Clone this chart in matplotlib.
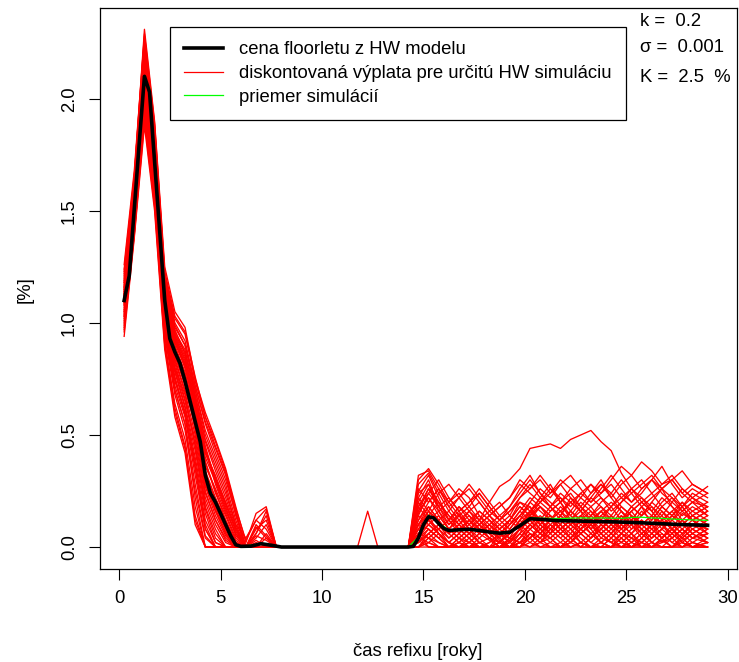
"""Floorlet z HW modelu vs. diskontované výplaty simulácií (k=0.2, sigma=0.001, K=2.5 %)."""
import numpy as np
import matplotlib
matplotlib.use("Agg")
import matplotlib.pyplot as plt
from matplotlib.lines import Line2D

FS = 13.3
plt.rcParams["font.family"] = ["Liberation Sans", "DejaVu Sans"]
plt.rcParams["font.size"] = FS

# ---- dáta odčítané z obrázka ----
# časová mriežka simulácií (roky): začiatok, stred (nuly), koniec
T_EARLY = [0.25, 0.75, 1.25, 1.75, 2.25, 2.75, 3.25, 3.75,
           4.25, 4.75, 5.25, 5.75, 6.25, 6.75, 7.25, 7.75]
T_MID = [8.25, 8.75, 9.25, 9.75, 10.25, 10.75, 11.25, 11.75, 12.25, 12.75, 13.25, 13.75]
T_TAIL = [14.25, 14.75, 15.25, 15.75, 16.25, 16.75, 17.25, 17.75, 18.25, 18.75,
          19.25, 19.75, 20.25, 20.75, 21.25, 21.75, 22.25, 22.75, 23.25, 23.75,
          24.25, 24.75, 25.25, 25.75, 26.25, 26.75, 27.25, 27.75, 28.25, 29.0]

sim_early = [
    [1.12, 1.52, 2.12, 1.72, 1.08, 0.88, 0.74, 0.52, 0.28, 0.16, 0.06, 0, 0, 0, 0, 0],
    [1.05, 1.45, 2.02, 1.62, 0.98, 0.78, 0.62, 0.40, 0.15, 0.02, 0, 0, 0, 0, 0, 0],
    [1.18, 1.60, 2.25, 1.85, 1.20, 0.98, 0.90, 0.70, 0.52, 0.40, 0.28, 0.12, 0, 0, 0, 0],
    [1.08, 1.48, 2.08, 1.68, 1.02, 0.70, 0.55, 0.22, 0, 0, 0, 0, 0, 0, 0, 0],
    [1.15, 1.55, 2.18, 1.78, 1.15, 0.95, 0.85, 0.66, 0.45, 0.30, 0.18, 0.05, 0, 0.08, 0.12, 0],
    [0.98, 1.40, 1.92, 1.55, 0.92, 0.62, 0.45, 0.12, 0, 0, 0, 0, 0, 0, 0, 0],
    [1.22, 1.65, 2.31, 1.90, 1.25, 1.05, 0.98, 0.75, 0.60, 0.48, 0.35, 0.18, 0.02, 0.15, 0.18, 0],
    [1.10, 1.50, 2.10, 1.70, 1.10, 0.86, 0.72, 0.58, 0.30, 0.20, 0.10, 0, 0, 0, 0, 0],
    [1.02, 1.42, 1.98, 1.60, 1.00, 0.80, 0.68, 0.45, 0.20, 0.08, 0, 0, 0, 0, 0, 0],
    [1.14, 1.56, 2.15, 1.76, 1.12, 0.92, 0.80, 0.62, 0.38, 0.25, 0.12, 0.02, 0, 0, 0, 0],
    [1.26, 1.68, 2.28, 1.88, 1.22, 1.00, 0.92, 0.72, 0.55, 0.42, 0.30, 0.15, 0, 0.10, 0.05, 0],
    [0.94, 1.38, 1.88, 1.50, 0.88, 0.58, 0.42, 0.10, 0, 0, 0, 0, 0, 0, 0, 0],
    [1.09, 1.49, 2.06, 1.66, 1.05, 0.84, 0.70, 0.55, 0.25, 0.12, 0.04, 0, 0, 0, 0, 0],
    [1.16, 1.58, 2.20, 1.80, 1.16, 0.94, 0.84, 0.64, 0.42, 0.32, 0.20, 0.08, 0, 0.04, 0.10, 0],
    [1.06, 1.46, 2.04, 1.64, 1.04, 0.82, 0.66, 0.48, 0.22, 0.10, 0.02, 0, 0, 0, 0, 0],
    [1.20, 1.62, 2.22, 1.82, 1.18, 0.96, 0.88, 0.68, 0.48, 0.36, 0.24, 0.10, 0, 0, 0, 0],
    [1.11, 1.51, 2.11, 1.71, 1.09, 0.87, 0.76, 0.58, 0.34, 0.22, 0.12, 0.02, 0, 0.02, 0, 0],
    [1.00, 1.42, 1.96, 1.58, 0.96, 0.72, 0.58, 0.32, 0.08, 0, 0, 0, 0, 0, 0, 0],
    [1.13, 1.54, 2.14, 1.74, 1.12, 0.90, 0.78, 0.60, 0.36, 0.26, 0.15, 0.04, 0, 0, 0, 0],
    [1.07, 1.47, 2.05, 1.65, 1.03, 0.80, 0.65, 0.46, 0.18, 0.06, 0, 0, 0, 0, 0, 0],
    [1.19, 1.61, 2.24, 1.84, 1.19, 0.97, 0.86, 0.70, 0.50, 0.38, 0.26, 0.10, 0.04, 0.12, 0.08, 0],
    [1.04, 1.44, 2.00, 1.61, 0.99, 0.76, 0.60, 0.38, 0.12, 0.02, 0, 0, 0, 0, 0, 0],
    [1.12, 1.53, 2.13, 1.73, 1.11, 0.89, 0.77, 0.57, 0.32, 0.18, 0.08, 0, 0, 0, 0, 0],
    [1.17, 1.59, 2.19, 1.79, 1.14, 0.93, 0.82, 0.65, 0.44, 0.28, 0.16, 0.06, 0, 0, 0.06, 0],
    [1.03, 1.43, 1.99, 1.59, 0.97, 0.74, 0.60, 0.36, 0.10, 0, 0, 0, 0, 0, 0, 0],
    [1.24, 1.66, 2.27, 1.87, 1.21, 1.02, 0.95, 0.74, 0.58, 0.45, 0.33, 0.16, 0, 0.06, 0.14, 0],
    [1.09, 1.50, 2.09, 1.69, 1.07, 0.85, 0.73, 0.54, 0.27, 0.14, 0.05, 0, 0, 0, 0, 0],
    [0.99, 1.41, 1.94, 1.56, 0.94, 0.68, 0.52, 0.25, 0.04, 0, 0, 0, 0, 0, 0, 0],
    [1.14, 1.55, 2.16, 1.77, 1.13, 0.91, 0.81, 0.63, 0.40, 0.29, 0.17, 0.06, 0, 0.03, 0, 0],
    [1.10, 1.51, 2.09, 1.70, 1.09, 0.86, 0.75, 0.56, 0.30, 0.19, 0.09, 0.01, 0, 0, 0, 0],
    [1.13, 1.54, 2.17, 1.76, 1.13, 0.92, 0.80, 0.64, 0.42, 0.30, 0.20, 0.08, 0, 0.06, 0.16, 0],
    [1.01, 1.43, 1.97, 1.58, 0.95, 0.70, 0.55, 0.28, 0.05, 0, 0, 0, 0, 0, 0, 0],
    [1.21, 1.63, 2.26, 1.86, 1.20, 0.99, 0.90, 0.72, 0.56, 0.44, 0.32, 0.14, 0, 0, 0, 0],
    [1.08, 1.48, 2.07, 1.67, 1.06, 0.83, 0.69, 0.50, 0.24, 0.12, 0.03, 0, 0, 0, 0, 0],
    [1.15, 1.57, 2.17, 1.78, 1.14, 0.93, 0.81, 0.61, 0.38, 0.24, 0.14, 0.03, 0, 0.05, 0.03, 0],
    [0.96, 1.39, 1.90, 1.52, 0.90, 0.60, 0.44, 0.14, 0, 0, 0, 0, 0, 0, 0, 0],
    [1.11, 1.52, 2.12, 1.72, 1.10, 0.88, 0.76, 0.59, 0.33, 0.21, 0.11, 0.02, 0, 0, 0, 0],
    [1.18, 1.60, 2.23, 1.83, 1.17, 0.95, 0.87, 0.67, 0.47, 0.34, 0.22, 0.09, 0, 0.09, 0.04, 0],
    [1.05, 1.45, 2.03, 1.63, 1.01, 0.79, 0.63, 0.43, 0.17, 0.04, 0, 0, 0, 0, 0, 0],
    [1.12, 1.53, 2.11, 1.71, 1.10, 0.88, 0.75, 0.57, 0.31, 0.17, 0.07, 0, 0, 0, 0, 0],
    [1.23, 1.65, 2.29, 1.89, 1.23, 1.03, 0.96, 0.76, 0.58, 0.47, 0.34, 0.17, 0.03, 0.12, 0.17, 0],
    [1.03, 1.44, 2.01, 1.60, 0.98, 0.75, 0.59, 0.35, 0.08, 0, 0, 0, 0, 0, 0, 0],
    [1.10, 1.50, 2.10, 1.70, 1.08, 0.86, 0.74, 0.55, 0.29, 0.16, 0.06, 0, 0, 0, 0, 0],
    [1.16, 1.57, 2.18, 1.79, 1.15, 0.94, 0.83, 0.64, 0.43, 0.31, 0.19, 0.07, 0, 0, 0.04, 0],
    [0.97, 1.40, 1.93, 1.54, 0.91, 0.64, 0.48, 0.18, 0, 0, 0, 0, 0, 0, 0, 0],
]

mid_zero = [0, 0, 0, 0, 0, 0, 0, 0, 0, 0, 0, 0]
mid_bump = [0, 0, 0, 0, 0, 0, 0, 0, 0.16, 0, 0, 0]   # jediná simulácia s výplatou okolo 12 rokov

sim_tail = [
    [0, 0.22, 0.30, 0.18, 0.10, 0.15, 0.08, 0.02, 0, 0.05, 0.12, 0.20, 0.18, 0.10, 0.06, 0.14, 0.22, 0.16, 0.08, 0.02, 0, 0.06, 0.12, 0.18, 0.10, 0.04, 0.08, 0.15, 0.12, 0.08],
    [0, 0.05, 0.12, 0.08, 0.02, 0, 0, 0.04, 0.08, 0.03, 0, 0.06, 0.15, 0.22, 0.28, 0.20, 0.12, 0.18, 0.24, 0.30, 0.22, 0.16, 0.10, 0.14, 0.20, 0.26, 0.18, 0.12, 0.16, 0.20],
    [0, 0.30, 0.35, 0.28, 0.20, 0.26, 0.22, 0.14, 0.08, 0.12, 0.18, 0.26, 0.32, 0.24, 0.18, 0.12, 0.08, 0.02, 0, 0, 0.04, 0.10, 0.06, 0, 0, 0.03, 0, 0.05, 0.10, 0.06],
    [0, 0, 0.04, 0.02, 0, 0, 0, 0, 0, 0, 0, 0.02, 0.06, 0.04, 0, 0, 0.02, 0.08, 0.12, 0.06, 0.02, 0, 0, 0.04, 0.10, 0.14, 0.08, 0.02, 0, 0],
    [0, 0.10, 0.18, 0.12, 0.06, 0.10, 0.16, 0.12, 0.20, 0.27, 0.30, 0.35, 0.44, 0.45, 0.46, 0.44, 0.48, 0.50, 0.52, 0.47, 0.43, 0.33, 0.26, 0.30, 0.24, 0.18, 0.22, 0.16, 0.20, 0.24],
    [0, 0.18, 0.26, 0.20, 0.14, 0.08, 0.04, 0, 0, 0, 0.03, 0.08, 0.12, 0.06, 0.02, 0, 0, 0, 0.04, 0.08, 0.14, 0.20, 0.26, 0.22, 0.16, 0.10, 0.04, 0, 0.02, 0.06],
    [0, 0.08, 0.16, 0.24, 0.28, 0.22, 0.26, 0.20, 0.14, 0.10, 0.06, 0.10, 0.14, 0.20, 0.24, 0.30, 0.26, 0.22, 0.28, 0.24, 0.30, 0.36, 0.32, 0.38, 0.34, 0.28, 0.32, 0.26, 0.22, 0.27],
    [0, 0.02, 0.06, 0.02, 0, 0, 0.02, 0.06, 0.03, 0, 0, 0, 0.04, 0.10, 0.14, 0.08, 0.04, 0.10, 0.06, 0.02, 0, 0, 0.04, 0.02, 0, 0, 0, 0.03, 0.06, 0.02],
    [0, 0.25, 0.32, 0.22, 0.12, 0.16, 0.20, 0.24, 0.18, 0.12, 0.08, 0.14, 0.20, 0.16, 0.12, 0.18, 0.14, 0.20, 0.16, 0.10, 0.14, 0.08, 0.12, 0.18, 0.14, 0.20, 0.24, 0.18, 0.12, 0.16],
    [0, 0, 0, 0, 0, 0.02, 0.06, 0.02, 0, 0, 0, 0.04, 0.08, 0.12, 0.08, 0.14, 0.10, 0.06, 0.02, 0.06, 0.10, 0.16, 0.12, 0.08, 0.12, 0.18, 0.14, 0.10, 0.06, 0.10],
    [0, 0.15, 0.22, 0.16, 0.08, 0.12, 0.06, 0.10, 0.04, 0, 0.04, 0.12, 0.20, 0.26, 0.22, 0.28, 0.22, 0.18, 0.12, 0.16, 0.10, 0.06, 0.02, 0, 0, 0.04, 0.10, 0.06, 0.02, 0],
    [0, 0.04, 0.10, 0.06, 0.02, 0.06, 0.10, 0.14, 0.10, 0.06, 0.02, 0.08, 0.16, 0.12, 0.18, 0.14, 0.20, 0.16, 0.22, 0.18, 0.12, 0.08, 0.14, 0.10, 0.06, 0.12, 0.08, 0.04, 0.08, 0.12],
    [0, 0.28, 0.33, 0.24, 0.16, 0.22, 0.28, 0.22, 0.16, 0.20, 0.14, 0.22, 0.26, 0.30, 0.24, 0.28, 0.32, 0.26, 0.20, 0.24, 0.28, 0.22, 0.26, 0.20, 0.24, 0.28, 0.30, 0.34, 0.28, 0.24],
    [0, 0, 0.02, 0, 0, 0, 0, 0, 0, 0, 0, 0, 0.02, 0, 0, 0, 0.04, 0, 0, 0, 0, 0.02, 0.06, 0.02, 0, 0, 0, 0, 0.02, 0],
    [0, 0.10, 0.16, 0.10, 0.04, 0.08, 0.12, 0.08, 0.04, 0.08, 0.12, 0.18, 0.14, 0.10, 0.06, 0.02, 0.06, 0.12, 0.08, 0.14, 0.18, 0.12, 0.16, 0.20, 0.16, 0.22, 0.18, 0.14, 0.18, 0.14],
    [0, 0.20, 0.14, 0.06, 0, 0, 0.04, 0, 0, 0, 0, 0, 0.06, 0.02, 0.06, 0.10, 0.06, 0.02, 0, 0.02, 0.06, 0.10, 0.06, 0.12, 0.08, 0.04, 0, 0.04, 0, 0.02],
    [0, 0.06, 0.12, 0.16, 0.10, 0.14, 0.18, 0.12, 0.08, 0.04, 0.10, 0.16, 0.22, 0.18, 0.14, 0.10, 0.16, 0.12, 0.06, 0.10, 0.06, 0.12, 0.18, 0.14, 0.20, 0.16, 0.10, 0.06, 0.10, 0.08],
    [0, 0.02, 0.08, 0.04, 0.08, 0.04, 0, 0.02, 0, 0, 0.02, 0.06, 0.10, 0.06, 0.04, 0.08, 0.12, 0.16, 0.12, 0.08, 0.04, 0, 0, 0.02, 0.06, 0.02, 0.04, 0.08, 0.04, 0.06],
    [0, 0.24, 0.28, 0.16, 0.20, 0.14, 0.08, 0.12, 0.06, 0.02, 0.06, 0.12, 0.16, 0.20, 0.26, 0.20, 0.14, 0.10, 0.14, 0.20, 0.24, 0.18, 0.14, 0.08, 0.04, 0.08, 0.14, 0.20, 0.16, 0.12],
    [0, 0, 0.06, 0.10, 0.06, 0.02, 0, 0, 0.02, 0.06, 0.04, 0.02, 0.08, 0.04, 0.10, 0.06, 0.02, 0.06, 0.10, 0.14, 0.10, 0.06, 0.02, 0.06, 0.10, 0.06, 0.02, 0, 0.04, 0.02],
    [0, 0.14, 0.24, 0.30, 0.22, 0.16, 0.10, 0.06, 0.10, 0.04, 0, 0.04, 0.10, 0.14, 0.10, 0.06, 0.10, 0.14, 0.18, 0.22, 0.16, 0.20, 0.24, 0.18, 0.22, 0.26, 0.30, 0.24, 0.20, 0.18],
    [0, 0.04, 0.02, 0, 0, 0, 0, 0, 0, 0, 0, 0, 0, 0, 0.02, 0.06, 0.02, 0, 0, 0, 0, 0, 0, 0, 0.02, 0, 0, 0, 0, 0],
    [0, 0.18, 0.12, 0.08, 0.12, 0.18, 0.14, 0.10, 0.14, 0.18, 0.22, 0.28, 0.24, 0.20, 0.16, 0.20, 0.26, 0.30, 0.24, 0.28, 0.22, 0.28, 0.32, 0.26, 0.30, 0.36, 0.28, 0.22, 0.26, 0.22],
    [0, 0.08, 0.12, 0.06, 0.02, 0, 0.02, 0.06, 0.10, 0.06, 0.02, 0, 0.04, 0.08, 0.04, 0, 0.02, 0.06, 0.02, 0, 0.04, 0.08, 0.12, 0.08, 0.04, 0.08, 0.12, 0.16, 0.12, 0.08],
    [0, 0.32, 0.34, 0.26, 0.18, 0.12, 0.16, 0.10, 0.06, 0.02, 0.08, 0.14, 0.18, 0.12, 0.06, 0.10, 0.04, 0.08, 0.12, 0.06, 0.02, 0.06, 0.10, 0.04, 0, 0.04, 0.08, 0.12, 0.06, 0.10],
    [0, 0, 0.04, 0.08, 0.12, 0.08, 0.04, 0.08, 0.04, 0.02, 0.06, 0.10, 0.06, 0.02, 0.08, 0.12, 0.08, 0.12, 0.08, 0.12, 0.08, 0.04, 0.08, 0.12, 0.08, 0.04, 0.08, 0.04, 0.08, 0.04],
    [0, 0.12, 0.20, 0.26, 0.20, 0.24, 0.18, 0.24, 0.18, 0.12, 0.16, 0.22, 0.28, 0.22, 0.18, 0.24, 0.20, 0.24, 0.28, 0.22, 0.18, 0.24, 0.20, 0.26, 0.30, 0.24, 0.20, 0.26, 0.22, 0.18],
    [0, 0.06, 0, 0, 0, 0, 0, 0, 0, 0, 0, 0.02, 0.04, 0, 0, 0.02, 0, 0.02, 0, 0, 0, 0.04, 0, 0, 0, 0.02, 0.06, 0.02, 0, 0],
    [0, 0.16, 0.26, 0.18, 0.12, 0.06, 0.12, 0.16, 0.12, 0.08, 0.12, 0.18, 0.14, 0.08, 0.12, 0.16, 0.10, 0.06, 0.10, 0.16, 0.12, 0.18, 0.14, 0.10, 0.14, 0.10, 0.06, 0.10, 0.14, 0.10],
    [0, 0.10, 0.08, 0.04, 0, 0.04, 0.08, 0.04, 0, 0.02, 0.06, 0.10, 0.14, 0.18, 0.14, 0.08, 0.12, 0.08, 0.04, 0.08, 0.12, 0.08, 0.04, 0.08, 0.02, 0, 0.04, 0.08, 0.12, 0.06],
    [0, 0.20, 0.28, 0.20, 0.12, 0.18, 0.12, 0.06, 0.10, 0.14, 0.10, 0.16, 0.12, 0.18, 0.14, 0.10, 0.16, 0.22, 0.18, 0.12, 0.08, 0.14, 0.10, 0.06, 0.10, 0.16, 0.12, 0.18, 0.22, 0.16],
    [0, 0.04, 0.08, 0.04, 0, 0.02, 0.06, 0.10, 0.06, 0.02, 0, 0.04, 0.10, 0.06, 0.12, 0.08, 0.04, 0, 0.04, 0.10, 0.06, 0.12, 0.16, 0.10, 0.06, 0.02, 0.06, 0.12, 0.08, 0.04],
    [0, 0.26, 0.20, 0.26, 0.18, 0.22, 0.16, 0.20, 0.14, 0.18, 0.22, 0.30, 0.26, 0.32, 0.26, 0.22, 0.18, 0.24, 0.20, 0.26, 0.32, 0.26, 0.20, 0.24, 0.30, 0.26, 0.22, 0.18, 0.24, 0.20],
    [0, 0, 0.02, 0.06, 0.02, 0, 0, 0.02, 0, 0, 0.04, 0.02, 0, 0.04, 0.08, 0.04, 0, 0.02, 0.06, 0.02, 0, 0.04, 0, 0.02, 0.06, 0.10, 0.06, 0.02, 0.06, 0.02],
    [0, 0.12, 0.18, 0.12, 0.16, 0.10, 0.14, 0.08, 0.12, 0.06, 0.10, 0.14, 0.10, 0.06, 0.10, 0.14, 0.10, 0.14, 0.10, 0.06, 0.10, 0.14, 0.08, 0.12, 0.08, 0.12, 0.16, 0.10, 0.14, 0.10],
    [0, 0.08, 0.04, 0, 0, 0.04, 0.02, 0, 0.02, 0.06, 0.02, 0.08, 0.12, 0.08, 0.04, 0.08, 0.12, 0.08, 0.14, 0.10, 0.06, 0.02, 0.06, 0.10, 0.14, 0.08, 0.12, 0.08, 0.04, 0.08],
    [0, 0.18, 0.24, 0.18, 0.22, 0.16, 0.20, 0.26, 0.20, 0.14, 0.18, 0.24, 0.30, 0.24, 0.20, 0.16, 0.20, 0.16, 0.22, 0.28, 0.24, 0.30, 0.24, 0.28, 0.32, 0.26, 0.30, 0.24, 0.28, 0.24],
    [0, 0.02, 0.06, 0.10, 0.06, 0.10, 0.06, 0.02, 0.04, 0.02, 0, 0.02, 0.06, 0.02, 0, 0, 0.04, 0.08, 0.04, 0.08, 0.12, 0.08, 0.12, 0.06, 0.02, 0.06, 0.02, 0.06, 0.10, 0.14],
    [0, 0.14, 0.10, 0.14, 0.08, 0.04, 0.08, 0.12, 0.16, 0.12, 0.16, 0.20, 0.16, 0.10, 0.16, 0.20, 0.24, 0.18, 0.14, 0.18, 0.14, 0.10, 0.16, 0.20, 0.16, 0.10, 0.14, 0.18, 0.12, 0.16],
    [0, 0.06, 0.10, 0.06, 0.02, 0.06, 0.02, 0, 0, 0.02, 0.06, 0.12, 0.08, 0.12, 0.08, 0.04, 0.08, 0.04, 0, 0.02, 0.06, 0.02, 0, 0.04, 0.08, 0.12, 0.08, 0.04, 0, 0.04],
    [0, 0.22, 0.16, 0.12, 0.06, 0.10, 0.06, 0.10, 0.06, 0.10, 0.14, 0.10, 0.16, 0.22, 0.18, 0.22, 0.16, 0.12, 0.16, 0.12, 0.18, 0.22, 0.18, 0.22, 0.18, 0.14, 0.20, 0.16, 0.20, 0.14],
    [0, 0.10, 0.14, 0.20, 0.14, 0.10, 0.06, 0.10, 0.14, 0.08, 0.04, 0.08, 0.04, 0.08, 0.12, 0.16, 0.12, 0.08, 0.12, 0.16, 0.20, 0.16, 0.10, 0.16, 0.12, 0.18, 0.14, 0.10, 0.14, 0.18],
    [0, 0.03, 0, 0, 0, 0.02, 0, 0, 0, 0.02, 0, 0.02, 0, 0.02, 0.04, 0, 0, 0.02, 0, 0.04, 0.02, 0, 0.02, 0.06, 0.02, 0, 0, 0.02, 0, 0.02],
    [0, 0.16, 0.22, 0.14, 0.08, 0.14, 0.10, 0.16, 0.12, 0.08, 0.12, 0.08, 0.14, 0.18, 0.12, 0.08, 0.12, 0.06, 0.10, 0.04, 0.08, 0.12, 0.18, 0.14, 0.18, 0.12, 0.16, 0.20, 0.14, 0.18],
    [0, 0.06, 0.04, 0.08, 0.04, 0.08, 0.12, 0.08, 0.04, 0, 0.02, 0.06, 0.02, 0.06, 0.10, 0.06, 0.10, 0.14, 0.10, 0.06, 0.02, 0.06, 0.04, 0, 0.04, 0.08, 0.04, 0.08, 0.04, 0.08],
]

# cena floorletu z HW modelu (čierna)
hw_t = [0.25, 0.5, 0.75, 1.0, 1.25, 1.5, 1.75, 2.0, 2.25, 2.5, 2.75, 3.0, 3.25, 3.5, 3.75,
        4.0, 4.25, 4.5, 4.75, 5.0, 5.25, 5.5, 5.75, 6.0, 6.5, 7.0, 7.5, 8.0,
        14.25, 14.5, 14.75, 15.0, 15.25, 15.5, 15.75, 16.0, 16.25, 16.75, 17.25, 17.75,
        18.25, 18.75, 19.25, 19.75, 20.25, 20.75, 21.5, 22.5, 23.5, 24.5, 25.5, 26.5,
        27.5, 28.5, 29.0]
hw_price = [1.10, 1.21, 1.51, 1.81, 2.10, 2.03, 1.72, 1.41, 1.10, 0.93, 0.87, 0.82, 0.74, 0.65, 0.56,
            0.47, 0.32, 0.24, 0.20, 0.15, 0.10, 0.05, 0.01, 0.003, 0.004, 0.015, 0.008, 0.0,
            0.0, 0.003, 0.04, 0.10, 0.135, 0.13, 0.105, 0.083, 0.074, 0.077, 0.079, 0.074,
            0.067, 0.062, 0.066, 0.095, 0.126, 0.124, 0.118, 0.116, 0.114, 0.112, 0.109, 0.105,
            0.101, 0.098, 0.097]

# priemer simulácií (zelená)
mean_t = [0.25, 0.5, 0.75, 1.0, 1.25, 1.5, 1.75, 2.0, 2.25, 2.5, 2.75, 3.0, 3.25, 3.5, 3.75,
          4.0, 4.25, 4.5, 4.75, 5.0, 5.25, 5.5, 5.75, 6.0, 7.0, 8.0,
          14.25, 14.75, 15.25, 15.75, 16.25, 16.75, 17.25, 17.75, 18.25, 18.75, 19.25, 19.75,
          20.25, 20.75, 21.25, 21.75, 22.25, 22.75, 23.25, 23.75, 24.25, 24.75, 25.25, 25.75,
          26.25, 26.75, 27.25, 27.75, 28.25, 28.75, 29.0]
mean_sim = [1.10, 1.21, 1.51, 1.81, 2.08, 2.05, 1.73, 1.41, 1.11, 0.94, 0.88, 0.82, 0.75, 0.65, 0.56,
            0.47, 0.32, 0.24, 0.20, 0.15, 0.10, 0.05, 0.01, 0.003, 0.015, 0.0,
            0.0, 0.045, 0.142, 0.108, 0.076, 0.079, 0.081, 0.076, 0.069, 0.064, 0.068, 0.098,
            0.132, 0.129, 0.128, 0.127, 0.129, 0.130, 0.129, 0.130, 0.129, 0.128, 0.132, 0.133,
            0.130, 0.128, 0.125, 0.123, 0.121, 0.120, 0.119]

k_param = "0.2"
sigma_param = "0.001"
strike = "2.5"

legend_labels = ["cena floorletu z HW modelu",
                 "diskontovaná výplata pre určitú HW simuláciu",
                 "priemer simulácií"]

# ---- graf ----
fig = plt.figure(figsize=(7.39, 6.62), dpi=100)
ax = fig.add_axes([100 / 739, 1 - 569 / 662, 637 / 739, 561 / 662])

t_sim = T_EARLY + T_MID + T_TAIL
for i, (early, tail) in enumerate(zip(sim_early, sim_tail)):
    mid = mid_bump if i == 6 else mid_zero
    ax.plot(t_sim, early + mid + tail, color="red", lw=0.95, zorder=1)

ax.plot(mean_t, mean_sim, color="#00ff00", lw=0.9, zorder=2)
ax.plot(hw_t, hw_price, color="black", lw=2.6, zorder=3)

ax.set_xlim(-0.94, 30.45)
ax.set_ylim(-0.098, 2.405)
ax.set_xticks([0, 5, 10, 15, 20, 25, 30])
ax.set_yticks([0.0, 0.5, 1.0, 1.5, 2.0])
ax.set_yticklabels(["0.0", "0.5", "1.0", "1.5", "2.0"], rotation=90, va="center")
ax.tick_params(length=8, width=0.8, labelsize=FS)
ax.tick_params(axis="x", pad=7)
ax.tick_params(axis="y", pad=8)
for s in ax.spines.values():
    s.set_linewidth(0.9)

fig.text(418 / 739, 1 - 652 / 662, "čas refixu [roky]", ha="center", va="center", fontsize=FS)
fig.text(25 / 739, 1 - 290 / 662, "[%]", ha="center", va="center", rotation=90, fontsize=FS)

handles = [Line2D([], [], color="black", lw=2.6),
           Line2D([], [], color="red", lw=0.9),
           Line2D([], [], color="#00ff00", lw=0.9)]
leg = ax.legend(handles, legend_labels, loc="upper left",
                bbox_to_anchor=(170 / 739, 1 - 27 / 662), bbox_transform=fig.transFigure,
                borderaxespad=0, frameon=True, fancybox=False, framealpha=1,
                edgecolor="black", handlelength=2.1, handletextpad=0.85,
                labelspacing=0.36, borderpad=0.78, fontsize=FS)
leg.get_frame().set_linewidth(0.9)

fig.text(640 / 739, 1 - 22 / 662, f"k =  {k_param}", ha="left", va="center", fontsize=FS)
fig.text(640 / 739, 1 - 48 / 662, f"σ =  {sigma_param}", ha="left", va="center", fontsize=FS)
fig.text(640 / 739, 1 - 77 / 662, f"K =  {strike}  %", ha="left", va="center", fontsize=FS)

fig.savefig("out.png", dpi=100)
